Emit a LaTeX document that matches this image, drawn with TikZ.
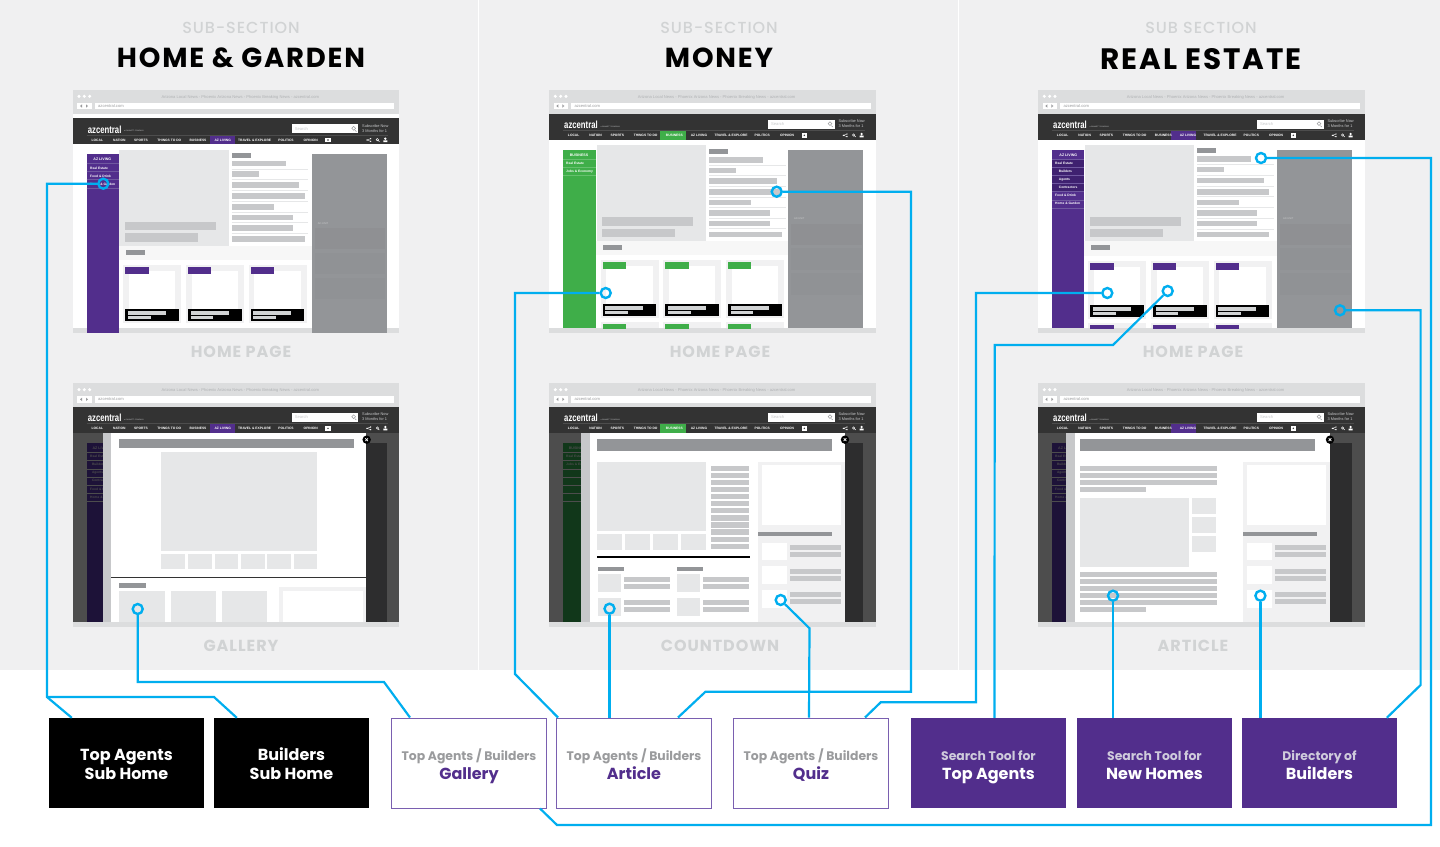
\documentclass[tikz,border=0pt]{standalone}
\usepackage{fontspec}
\setmainfont{Poppins}
\newfontfamily\uifont{Liberation Sans}
\newfontfamily\headfont[LetterSpace=6.5]{Poppins}
\newfontfamily\captfont[LetterSpace=6]{Poppins}
\newfontfamily\subfont[LetterSpace=6]{Poppins Medium}
\definecolor{panel}{HTML}{F0F0F1}
\definecolor{chrome}{HTML}{DCDDDE}
\definecolor{headbar}{HTML}{333333}
\definecolor{ph}{HTML}{E6E7E8}
\definecolor{barg}{HTML}{C7C8CA}
\definecolor{headg}{HTML}{939598}
\definecolor{band}{HTML}{F7F7F7}
\definecolor{card}{HTML}{F1F1F2}
\definecolor{purp}{HTML}{522E8C}
\definecolor{purpd}{HTML}{3F2170}
\definecolor{purpl}{HTML}{7058A0}
\definecolor{grn}{HTML}{3FAE49}
\definecolor{grnl}{HTML}{66C06E}
\definecolor{adg}{HTML}{939598}
\definecolor{add}{HTML}{8F9093}
\definecolor{dimbg}{HTML}{4D4D4D}
\definecolor{dimad}{HTML}{2D2D2E}
\definecolor{dimp}{HTML}{1D1238}
\definecolor{dimg}{HTML}{11371A}
\definecolor{wirec}{HTML}{00AEEF}
\definecolor{capt}{HTML}{D1D3D4}
\definecolor{soft}{HTML}{9A9B9D}
\definecolor{titleg}{HTML}{B0B2B4}
\definecolor{softp}{HTML}{CFCBDC}
\definecolor{boxline}{HTML}{7A5FB0}
\newcounter{lbl}
\tikzset{
  tinytext/.style={font=\uifont\bfseries\fontsize{3.3}{4}\selectfont,text=white,inner sep=0pt},
  wire/.style={draw=wirec,line width=2.2pt,line join=miter},
  hot/.style={circle,draw=wirec,line width=2.4pt,minimum size=10pt,inner sep=0pt},
  sepline/.style={draw=ph,line width=0.6pt},
  cardbox/.style={minimum width=155pt,minimum height=90pt,inner sep=0pt,align=center,
     font=\bfseries\fontsize{16}{19}\selectfont},
  blackbox/.style={cardbox,fill=black,text=white},
  outlinebox/.style={cardbox,fill=white,draw=boxline,line width=1pt,text=purp},
  purplebox/.style={cardbox,fill=purp,text=white},
  headline/.style={font=\headfont\bfseries\fontsize{27.5}{30}\selectfont,text=black,inner sep=0pt},
  subline/.style={font=\subfont\fontsize{16}{18}\selectfont,text=capt,inner sep=0pt},
  captline/.style={font=\captfont\bfseries\fontsize{16}{18}\selectfont,text=capt,inner sep=0pt},
}
\newcommand\smallline[1]{{\fontsize{12.4}{19}\selectfont #1}}
% two-line box text: the taller first strut lowers the lines to where the reference has them
\newcommand\boxlines[2]{\rule[-5.7pt]{0pt}{24.4pt}#1\\\rule[-5.7pt]{0pt}{19pt}#2}
\newcommand\lbl[4][]{\stepcounter{lbl}\node[tinytext,#1] (t\arabic{lbl}) at (#2,#3) {#4};}
\newcommand\rrx[5]{\fill[#1] (#2,#3) rectangle (#4,#5);}
\newcommand\barsx[3]{\foreach \xb/\ya/\yb in {#3} {\fill[#1] (#2,\ya) rectangle (\xb,\yb);}}
\newcommand\sepsx[3]{\foreach \ys in {#3} {\draw[sepline] (#1,\ys) -- (#2,\ys);}}
\newcommand\cardrow[3]{\foreach \cx in {#1} {%
  \fill[card] (\cx,#2) rectangle +(174,173);
  \fill[white] (\cx+17,#2+18) rectangle (\cx+156,#2+131);
  \fill[#3] (\cx+6,#2+7) rectangle (\cx+76,#2+26);
  \fill[black] (\cx+6,#2+131) rectangle (\cx+167,#2+169);
  \fill[capt] (\cx+14,#2+139) rectangle (\cx+128,#2+150);
  \fill[capt] (\cx+14,#2+152) rectangle (\cx+82,#2+163);
}}
\newcommand\cardstub[3]{\foreach \cx in {#1} {%
  \fill[card] (\cx,#2) rectangle (\cx+174,730);
  \fill[#3] (\cx+6,#2+5) rectangle (\cx+76,731);
}}
\newcommand\adpanel[4]{%
  \fill[adg] (#1,#3) rectangle (#2,#4);
  \fill[add] (#1+8,#3+222) rectangle (#2-5,#3+285);
  \fill[add,opacity=.6] (#1+8,#3+295) rectangle (#2-5,#3+360);
  \fill[add,opacity=.6] (#1+8,#3+370) rectangle (#2-5,#3+435);
  \lbl[font=\uifont\fontsize{2.6}{3}\selectfont,text=barg]{#1+33}{#3+208}{AD UNIT}
}
\newcommand\browser[7]{%
\begin{scope}[shift={(#1,0)}]
  \fill[chrome] (38,#2) rectangle (1018,#3);
  \fill[white] (38,#3-14) rectangle (1018,#3);
  \fill[chrome] (38,#2) rectangle (1018,#2+72);
  \fill[chrome] (38,#4) rectangle (1018,#5);
  \fill[white] (38,#3+78) rectangle (1018,#4);
  \foreach \dx in {57,73,89} {\fill[white] (\dx,#2+19) circle[radius=1.7pt];}
  \fill[white] (52,#2+38) rectangle (95,#2+58);
  \fill[soft] (66,#2+43) -- (66,#2+53) -- (60,#2+48) -- cycle;
  \fill[soft] (78,#2+43) -- (78,#2+53) -- (84,#2+48) -- cycle;
  \fill[white] (104,#2+38) rectangle (1003,#2+58);
  \lbl[anchor=west,font=\uifont\fontsize{4.1}{5}\selectfont,text=soft]{114}{#2+48}{azcentral.com}
  \lbl[font=\uifont\fontsize{4.1}{5}\selectfont,text=titleg]{541}{#2+22}{Arizona Local News - Phoenix Arizona News - Phoenix Breaking News - azcentral.com}
  \fill[headbar] (38,#3) rectangle (1018,#3+78);
  \lbl[anchor=west,font=\uifont\bfseries\fontsize{8.6}{10}\selectfont]{83}{#3+33}{\scalebox{.9}[1.2]{azcentral}}
  \lbl[anchor=west,font=\uifont\fontsize{1.8}{2}\selectfont,text=barg]{192}{#3+39}{a GANNETT COMPANY}
  \fill[white] (696,#3+18) rectangle (895,#3+45);
  \lbl[anchor=west,font=\uifont\fontsize{4.1}{5}\selectfont,text=barg]{704}{#3+32}{Search}
  \draw[soft,line width=0.5pt] (881,#3+30) circle[radius=1.9pt] (885,#3+36) -- (889,#3+40);
  \lbl[anchor=west,align=left,font=\uifont\fontsize{3.9}{4.8}\selectfont,text=barg]{906}{#3+30}{Subscribe Now\\3 Months for 1}
  \draw[dimbg,line width=0.5pt] (80,#3+51) -- (985,#3+51);
  \fill[#7] (#6,#3+53) rectangle (#6+76,#3+78);
  \foreach \nx/\nt in {112/LOCAL,178/NATION,243/SPORTS,328/THINGS TO DO,414/BUSINESS,488/AZ LIVING,584/TRAVEL \& EXPLORE,678/POLITICS,752/OPINION}
    {\lbl{\nx}{#3+65}{\nt}}
  \fill[white] (796,#3+58) rectangle (812,#3+72);
  \fill[headbar] (804,#3+65) circle[radius=0.8pt];
  \fill[white] (921,#3+65) circle[radius=0.7pt] (932,#3+61) circle[radius=0.7pt] (932,#3+69) circle[radius=0.7pt];
  \draw[white,line width=0.35pt] (932,#3+61) -- (921,#3+65) -- (932,#3+69);
  \draw[white,line width=0.5pt] (952,#3+64) circle[radius=1.2pt] (955,#3+67) -- (958,#3+70);
  \fill[white] (976,#3+61) circle[radius=1.3pt] (970,#3+71) rectangle (982,#3+66);
\end{scope}}
\newcommand\closebtn[2]{%
  \fill[black] (#1,#2) circle[radius=4.2pt];
  \draw[white,line width=0.7pt] (#1-4,#2-4) -- (#1+4,#2+4) (#1-4,#2+4) -- (#1+4,#2-4);}
\newcommand\dimside[3]{%
  \fill[#1] (#2,188) rectangle (#2+97,727);
  \foreach \ys in {217,241,266,290,315,339,363} {\draw[dimbg,line width=0.3pt] (#2,\ys) -- (#2+97,\ys);}
  #3
}
\begin{document}
\begin{tikzpicture}[x=1pt,y=-1pt]
\useasboundingbox (0,0) rectangle (1440,846);
\fill[white] (0,0) rectangle (1440,846);
\fill[panel] (0,0) rectangle (1440,670);
\draw[white,line width=1pt] (478.5,0) -- (478.5,670) (958.5,0) -- (958.5,670);
\node[subline] (s1) at (241,28) {SUB-SECTION};
\node[subline] (s2) at (719,28) {SUB-SECTION};
\node[subline] (s3) at (1201,28) {SUB SECTION};
\node[headline] (h1) at (241,58) {HOME \& GARDEN};
\node[headline] (h2) at (719,58) {MONEY};
\node[headline,font=\headfont\bfseries\fontsize{29.5}{32}\selectfont] (h3) at (1201,59) {REAL ESTATE};
\node[captline] (c1) at (241,352) {HOME PAGE};
\node[captline] (c2) at (720,352) {HOME PAGE};
\node[captline] (c3) at (1193,352) {HOME PAGE};
\node[captline] (c4) at (241,646) {GALLERY};
\node[captline] (c5) at (720,646) {COUNTDOWN};
\node[captline] (c6) at (1193,646) {ARTICLE};
% ---- screen 1: home & garden, home page
\begin{scope}[shift={(60,85)},x=0.33333pt,y=-0.33333pt]
\browser{0}{15}{100}{730}{745}{450}{purp}
\adpanel{756}{980}{208}{745}
\rrx{purp}{80}{208}{177}{745}
\foreach \ys in {236,260,284,310} {\draw[purpl,line width=0.4pt] (80,\ys) -- (177,\ys);}
\lbl[font=\uifont\bfseries\fontsize{3.6}{4}\selectfont]{127}{224}{AZ LIVING}
\lbl[anchor=west]{90}{250}{Real Estate}
\lbl[anchor=west]{90}{274}{Food \& Drink}
\lbl[anchor=west]{90}{298}{Home \& Garden}
\rrx{white}{177}{195}{755}{730}
\rrx{ph}{177}{195}{507}{483}
\rrx{barg}{195}{411}{467}{436}
\rrx{barg}{195}{444}{414}{470}
\rrx{headg}{515}{203}{573}{219}
\barsx{barg}{515}{677/227/244,597/259/276,718/292/309,734/325/342,641/358/374,698/389/406,698/420/437,734/454/471}
\sepsx{515}{745}{252,284,317,350,382,412,445}
\rrx{band}{177}{483}{755}{524}
\rrx{headg}{197}{494}{255}{510}
\cardrow{190,378,566}{540}{purp}
\end{scope}
% ---- screen 2: money, home page
\begin{scope}[shift={(540,85)},x=0.33333pt,y=-0.33333pt]
\browser{-11}{15}{86}{730}{745}{372}{grn}
\adpanel{745}{970}{194}{730}
\rrx{grn}{69}{194}{167}{730}
\foreach \ys in {223,247,271} {\draw[grnl,line width=0.4pt] (69,\ys) -- (167,\ys);}
\lbl[font=\uifont\bfseries\fontsize{3.6}{4}\selectfont]{117}{210}{BUSINESS}
\lbl[anchor=west]{78}{235}{Real Estate}
\lbl[anchor=west]{78}{259}{Jobs \& Economy}
\rrx{white}{167}{181}{745}{730}
\rrx{ph}{170}{181}{498}{468}
\rrx{barg}{187}{397}{459}{423}
\rrx{barg}{187}{432}{406}{457}
\rrx{headg}{507}{191}{565}{207}
\barsx{barg}{507}{669/216/233,588/248/264,711/280/297,726/313/330,634/344/360,690/375/392,690/407/424,726/440/456}
\sepsx{507}{738}{241,272,304,337,368,399,431}
\rrx{band}{167}{468}{745}{509}
\rrx{headg}{189}{479}{247}{495}
\cardrow{182,370,558}{525}{grn}
\cardstub{182,370,558}{711}{grn}
\end{scope}
% ---- screen 3: real estate, home page
\begin{scope}[shift={(1030,85)},x=0.33333pt,y=-0.33333pt]
\browser{-14}{15}{86}{730}{745}{436}{purp}
\adpanel{742}{967}{194}{730}
\rrx{purp}{67}{194}{163}{730}
\rrx{purpd}{67}{224}{163}{320}
\foreach \ys in {223,247,272,296,320,345,369} {\draw[purpl,line width=0.4pt] (67,\ys) -- (163,\ys);}
\lbl[font=\uifont\bfseries\fontsize{3.6}{4}\selectfont]{115}{210}{AZ LIVING}
\lbl[anchor=west]{75}{235}{Real Estate}
\lbl[anchor=west]{86}{259}{Builders}
\lbl[anchor=west]{86}{284}{Agents}
\lbl[anchor=west]{86}{308}{Contractors}
\lbl[anchor=west]{75}{332}{Food \& Drink}
\lbl[anchor=west]{75}{356}{Home \& Garden}
\rrx{white}{163}{181}{742}{730}
\rrx{ph}{165}{181}{492}{468}
\rrx{barg}{181}{397}{453}{423}
\rrx{barg}{181}{432}{400}{457}
\rrx{headg}{501}{189}{558}{205}
\barsx{barg}{501}{662/214/231,582/246/262,703/279/295,718/312/329,627/344/360,682/375/392,682/407/424,718/441/457}
\sepsx{501}{732}{239,271,303,335,367,399,432}
\rrx{band}{163}{468}{742}{512}
\rrx{headg}{183}{480}{241}{496}
\cardrow{175,363,551}{528}{purp}
\cardstub{175,363,551}{715}{purp}
\end{scope}
% ---- screen 4: gallery
\begin{scope}[shift={(60,380)},x=0.33333pt,y=-0.33333pt]
\browser{0}{10}{80}{727}{740}{450}{purp}
\rrx{dimbg}{38}{158}{1018}{727}
\dimside{dimp}{80}{\lbl[text=dimbg,anchor=west,font=\uifont\bfseries\fontsize{3.6}{4}\selectfont]{97}{204}{AZ LIVING}
 \foreach \yt/\ttt in {229/Real Estate,253/\ \ Builders,278/\ \ Agents,302/\ \ Contractors,327/Food \& Drink,351/Home \& Garden}{\lbl[text=dimbg,anchor=west]{90}{\yt}{\ttt}}}
\rrx{dimad}{919}{188}{980}{727}
\rrx{barg}{128}{158}{153}{727}
\rrx{white}{153}{158}{919}{727}
\rrx{headg}{177}{177}{881}{203}
\rrx{ph}{304}{217}{772}{513}
\foreach \xa/\xb in {304/375,384/455,464/534,543/614,622/692,701/772} {\rrx{ph}{\xa}{521}{\xb}{568}}
\draw[headbar,line width=1.2pt] (153,593) -- (919,593);
\rrx{headg}{177}{609}{258}{623}
\foreach \xa/\xb in {177/314,332/468,486/622} {\rrx{ph}{\xa}{634}{\xb}{727}}
\rrx{card}{658}{622}{919}{727}
\rrx{white}{668}{632}{910}{727}
\closebtn{920}{179}
\end{scope}
% ---- screen 5: countdown
\begin{scope}[shift={(540,380)},x=0.33333pt,y=-0.33333pt]
\browser{-11}{10}{80}{727}{740}{372}{grn}
\rrx{dimbg}{27}{158}{1008}{727}
\dimside{dimg}{69}{\lbl[text=dimbg,anchor=west,font=\uifont\bfseries\fontsize{3.6}{4}\selectfont]{86}{204}{BUSINESS}
 \lbl[text=dimbg,anchor=west]{78}{229}{Real Estate}
 \lbl[text=dimbg,anchor=west]{78}{253}{Jobs \& Economy}}
\rrx{dimad}{914}{188}{970}{727}
\rrx{barg}{124}{158}{149}{727}
\rrx{white}{149}{158}{914}{727}
\rrx{headg}{171}{177}{875}{212}
\rrx{ph}{171}{247}{497}{453}
\foreach \xa/\xb in {171/246,255/330,339/414,423/497} {\rrx{ph}{\xa}{462}{\xb}{510}}
\barsx{barg}{514}{628/258/274,628/279/294,628/300/316,628/322/337,628/343/358,628/363/379,628/385/400,628/406/422,628/427/443,628/448/464,628/470/485,628/491/507}
\draw[black,line width=1.2pt] (171,531) -- (629,531);
\rrx{headg}{174}{562}{252}{574}
\rrx{headg}{410}{562}{490}{574}
\foreach \xa/\xb/\xc/\xd in {174/243/252/391,410/480/489/628} {
  \rrx{ph}{\xa}{583}{\xb}{636}
  \rrx{ph}{\xa}{654}{\xb}{707}
  \rrx{barg}{\xc}{591}{\xd}{605}
  \rrx{barg}{\xc}{612}{\xd}{627}
  \rrx{barg}{\xc}{661}{\xd}{676}
  \rrx{barg}{\xc}{682}{\xd}{697}
}
\rrx{card}{654}{246}{914}{727}
\rrx{white}{665}{255}{904}{436}
\rrx{headg}{654}{456}{875}{468}
\foreach \ya/\yb/\yc/\yd/\ye/\yf in {488/540/495/511/516/532,558/611/566/582/587/603,629/683/636/652/657/673} {
  \rrx{white}{665}{\ya}{740}{\yb}
  \rrx{barg}{750}{\yc}{903}{\yd}
  \rrx{barg}{750}{\ye}{903}{\yf}
}
\closebtn{915}{179}
\end{scope}
% ---- screen 6: article
\begin{scope}[shift={(1030,380)},x=0.33333pt,y=-0.33333pt]
\browser{-14}{10}{80}{727}{740}{436}{purp}
\rrx{dimbg}{24}{158}{1005}{727}
\dimside{dimp}{67}{\lbl[text=dimbg,anchor=west,font=\uifont\bfseries\fontsize{3.6}{4}\selectfont]{84}{204}{AZ LIVING}
 \foreach \yt/\ttt in {229/Real Estate,253/\ \ Builders,278/\ \ Agents,302/\ \ Contractors,327/Food \& Drink,351/Home \& Garden}{\lbl[text=dimbg,anchor=west]{75}{\yt}{\ttt}}}
\rrx{dimad}{899}{188}{967}{727}
\rrx{barg}{108}{158}{134}{727}
\rrx{white}{134}{158}{899}{727}
\rrx{headg}{151}{177}{855}{212}
\barsx{barg}{151}{561/258/273,561/279/294,561/300/316,348/322/337,561/576/591,561/597/612,561/618/633,561/639/654,561/660/676,348/682/697}
\rrx{ph}{151}{354}{478}{561}
\foreach \ya/\yb in {354/402,411/460,468/516} {\rrx{ph}{486}{\ya}{558}{\yb}}
\rrx{card}{639}{246}{899}{727}
\rrx{white}{650}{255}{888}{436}
\rrx{headg}{639}{456}{860}{468}
\foreach \ya/\yb/\yc/\yd/\ye/\yf in {488/540/495/511/516/532,558/611/566/582/587/603,629/683/636/652/657/673} {
  \rrx{white}{650}{\ya}{725}{\yb}
  \rrx{barg}{735}{\yc}{887}{\yd}
  \rrx{barg}{735}{\ye}{887}{\yf}
}
\closebtn{900}{179}
\end{scope}
% ---- boxes
\node[blackbox] (bAgents) at (126.5,763) {\boxlines{Top Agents}{Sub Home}};
\node[blackbox] (bBuilders) at (291.5,763) {\boxlines{Builders}{Sub Home}};
\node[outlinebox] (bGallery) at (469,763) {\boxlines{\textcolor{soft}{\smallline{Top Agents / Builders}}}{Gallery}};
\node[outlinebox] (bArticle) at (634,763) {\boxlines{\textcolor{soft}{\smallline{Top Agents / Builders}}}{Article}};
\node[outlinebox] (bQuiz) at (811,763) {\boxlines{\textcolor{soft}{\smallline{Top Agents / Builders}}}{Quiz}};
\node[purplebox] (bSearchA) at (988.5,763) {\boxlines{\textcolor{softp}{\smallline{Search Tool for}}}{Top Agents}};
\node[purplebox] (bSearchH) at (1154.5,763) {\boxlines{\textcolor{softp}{\smallline{Search Tool for}}}{New Homes}};
\node[purplebox] (bDir) at (1319.5,763) {\boxlines{\textcolor{softp}{\smallline{Directory of}}}{Builders}};
% ---- hotspots
\node[hot] (hA) at (103.3,183.7) {};
\node[hot] (hB) at (137.7,609) {};
\node[hot] (hC) at (605.7,293) {};
\node[hot] (hD) at (776.7,191.7) {};
\node[hot] (hE) at (609.5,608.7) {};
\node[hot] (hF) at (780.7,600) {};
\node[hot] (hG) at (1107.3,293) {};
\node[hot] (hH) at (1167.7,291) {};
\node[hot] (hI) at (1261,158) {};
\node[hot] (hJ) at (1340,310.3) {};
\node[hot] (hK) at (1113,595.7) {};
\node[hot] (hL) at (1260.4,595.7) {};
% ---- connectors
\coordinate (jA) at (47,697);
\draw[wire] (hA) -- (47,183.7) -- (jA) -- ([xshift=23pt]bAgents.north west);
\draw[wire] (jA) -- (214,697) -- ([xshift=23pt]bBuilders.north west);
\draw[wire] (hB) -- (137.7,682) -- (384,682) -- ([xshift=19pt]bGallery.north west);
\draw[wire] (hC) -- (515,293) -- (515,674) -- ([xshift=2pt]bArticle.north west);
\draw[wire] (hE) -- (hE |- bArticle.north);
\draw[wire] (hD) -- (911,191.7) -- (911,691.7) -- (705.5,691.7) -- ([xshift=122pt]bArticle.north west);
\draw[wire] (hF) -- (809.5,628.3) -- ([xshift=76pt]bQuiz.north west);
\draw[wire] (hG) -- (976,293) -- (976,702.3) -- (880.7,702.3) -- ([xshift=132pt]bQuiz.north west);
\draw[wire] (hH) -- (1113,345) -- (994.7,345) -- ([xshift=83.7pt]bSearchA.north west);
\draw[wire] (hK) -- (hK |- bSearchH.north);
\draw[wire] (hL) -- (hL |- bDir.north);
\draw[wire] (hJ) -- (1420.6,310.3) -- (1420.6,685) -- ([xshift=145pt]bDir.north west);
\draw[wire] (hI) -- (1431,158) -- (1431,825) -- (557,825) -- ([xshift=149pt]bGallery.south west);
\end{tikzpicture}
\end{document}
